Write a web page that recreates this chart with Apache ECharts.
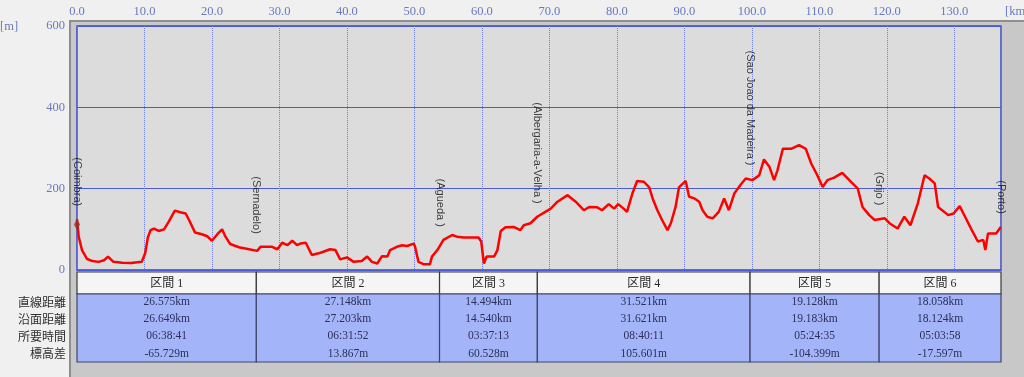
<!DOCTYPE html>
<html>
<head>
<meta charset="utf-8">
<script src="https://cdn.jsdelivr.net/npm/echarts@6/dist/echarts.min.js"></script>
<style>
  html, body { margin: 0; padding: 0; background: #f0f0f0; }
  #main { width: 1024px; height: 377px; }
</style>
</head>
<body>
<div id="main"></div>
<script>
// 標高プロファイル (距離 km / 標高 m)
var profileKm = [0, 0.25, 0.74, 1.5, 2.3, 3.2, 4.0, 4.6, 5.4, 6.7, 8.0, 9.6, 10.1, 10.5, 10.9, 11.4, 12.1, 12.9, 13.6, 14.5,
  15.3, 16.1, 16.6, 17.5, 18.5, 19.3, 20.0, 20.8, 21.5, 22.0, 22.7, 24.0, 25.5, 26.7, 27.2, 28.9, 29.7, 30.4, 31.2, 31.9,
  32.6, 33.1, 33.9, 34.1, 34.8, 35.8, 36.5, 37.5, 38.3, 39.0, 40.0, 41.0, 42.2, 43.0, 43.7, 44.5, 45.2, 46.0, 46.4, 47.4,
  48.2, 48.9, 49.9, 50.1, 50.6, 51.4, 52.3, 52.6, 53.4, 54.3, 55.6, 56.3, 57.3, 59.5, 59.9, 60.3, 60.7, 61.8, 62.3, 62.8,
  63.5, 64.7, 65.7, 66.2, 67.2, 68.2, 69.4, 70.2, 71.2, 72.7, 73.9, 75.1, 75.9, 77.1, 77.8, 78.8, 79.6, 80.2, 81.0, 81.5,
  82.3, 83.0, 84.0, 84.8, 85.3, 86.0, 86.7, 87.5, 88.0, 88.7, 89.2, 90.2, 90.7, 91.5, 92.2, 92.7, 93.4, 94.2, 95.1, 95.9,
  96.6, 97.4, 98.4, 99.1, 100.1, 101.1, 101.8, 102.6, 103.3, 103.8, 104.6, 105.8, 107.0, 108.0, 108.8, 109.7, 110.5, 111.2,
  112.2, 113.4, 114.7, 115.7, 116.4, 117.4, 118.2, 119.7, 120.4, 121.6, 122.6, 123.5, 124.6, 125.6, 126.3, 127.1, 127.6,
  129.1, 129.9, 130.8, 131.6, 132.6, 133.5, 134.3, 134.6, 135.0, 136.2, 136.9]
var profileM = [125, 82, 49, 27, 22, 20, 24, 33, 20, 18, 17, 20, 41, 80, 98, 102, 96, 100, 119, 146,
  142, 139, 123, 92, 88, 83, 72, 88, 100, 82, 64, 56, 51, 47, 57, 57, 51, 67, 61, 72,
  61, 65, 67, 70, 37, 41, 45, 51, 49, 26, 31, 20, 22, 33, 20, 16, 34, 33, 49, 57,
  61, 59, 65, 57, 20, 14, 14, 33, 49, 74, 86, 82, 80, 80, 70, 16, 33, 33, 49, 96,
  105, 106, 98, 110, 115, 131, 143, 151, 168, 184, 168, 147, 155, 154, 147, 162, 151, 162, 151, 143,
  188, 219, 217, 203, 176, 147, 123, 98, 115, 155, 203, 219, 180, 176, 168, 147, 131, 127, 143, 176,
  147, 188, 211, 225, 221, 233, 272, 254, 221, 245, 298, 298, 307, 298, 262, 233, 204, 221,
  227, 239, 217, 200, 155, 135, 123, 127, 115, 102, 131, 110, 164, 233, 225, 213, 155,
  135, 139, 157, 131, 98, 70, 74, 49, 90, 90, 106]

var places = ['(Coimbra)', '(Sernadelo)', '(Agueda )', '(Albergaria-a-Velha )', '(Sao Joao da Madeira )', '(Grijo )', '(Porto)']
var sections = ['区間 1', '区間 2', '区間 3', '区間 4', '区間 5', '区間 6']
var straightKm = [26.575, 27.148, 14.494, 31.521, 19.128, 18.058]
var surfaceKm = [26.649, 27.203, 14.540, 31.621, 19.183, 18.124]
var durations = ['06:38:41', '06:31:52', '03:37:13', '08:40:11', '05:24:35', '05:03:58']
var elevDiffM = [-65.729, 13.867, 60.528, 105.601, -104.399, -17.597]
var rowNames = ['直線距離', '沿面距離', '所要時間', '標高差']

var NUM_FONT = '"Liberation Serif", "Noto Sans CJK JP"'
var AXIS_COLOR = '#6a79bd'

// 区間の境界 (直線距離の累積)
var bounds = [0]
straightKm.forEach(function (d, i) { bounds.push(+(bounds[i] + d).toFixed(3)) })
var totalKm = bounds[bounds.length - 1]

var lineData = profileKm.map(function (x, i) { return [x, profileM[i]] })

// 地名ラベルの位置は近くの標高の最大値に合わせる
function localTop(km) {
  var m = 0
  profileKm.forEach(function (x, i) {
    if (Math.abs(x - km) <= 1.0) m = Math.max(m, profileM[i])
  })
  return m
}
var placeData = places.map(function (n, i) { return [bounds[i], localTop(bounds[i]), n] })

var tableData = sections.map(function (s, i) { return [bounds[i], bounds[i + 1], i] })

var chart = echarts.init(document.getElementById('main'))
chart.setOption({
  backgroundColor: '#f0f0f0',
  animation: false,
  graphic: [
    { type: 'rect', z: -10, shape: { x: 69, y: 20, width: 955, height: 357 }, style: { fill: '#c8c8c8' } },
    { type: 'rect', z: -9, shape: { x: 69, y: 20, width: 2, height: 357 }, style: { fill: '#8e8e8e' } },
    { type: 'rect', z: -9, shape: { x: 69, y: 20, width: 955, height: 2 }, style: { fill: '#8e8e8e' } },
    { type: 'text', x: 1005, y: 12, style: { text: '[km]', fill: AXIS_COLOR, font: '12.5px ' + NUM_FONT, align: 'left', verticalAlign: 'middle' } },
    { type: 'text', x: 0, y: 27, style: { text: '[m]', fill: AXIS_COLOR, font: '12.5px ' + NUM_FONT, align: 'left', verticalAlign: 'middle' } }
  ],
  grid: [
    { left: 77, right: 23, top: 26, bottom: 107, outerBoundsMode: 'none', containLabel: false,
      show: true, backgroundColor: '#dcdcdc', borderColor: '#3848c8', borderWidth: 1.5 },
    { left: 77, right: 23, top: 272, height: 90, outerBoundsMode: 'none', containLabel: false }
  ],
  xAxis: [
    {
      type: 'value', position: 'top', min: 0, max: totalKm, interval: 10,
      axisLine: { show: false }, axisTick: { show: false },
      axisLabel: { color: AXIS_COLOR, fontFamily: NUM_FONT, fontSize: 12.5, margin: 8, showMaxLabel: false,
        formatter: function (v) { return v.toFixed(1) } },
      splitLine: { show: true, lineStyle: { color: '#6f7fd8', width: 1, type: 'dotted' } }
    },
    { type: 'value', gridIndex: 1, min: 0, max: totalKm, show: false }
  ],
  yAxis: [
    {
      type: 'value', min: 0, max: 600, interval: 200,
      axisLine: { show: false }, axisTick: { show: false },
      axisLabel: { color: AXIS_COLOR, fontFamily: NUM_FONT, fontSize: 12.5, margin: 12 },
      splitLine: { show: true, lineStyle: { color: '#4a5ad4', width: 1 } }
    },
    { type: 'value', gridIndex: 1, min: 0, max: 1, show: false }
  ],
  series: [
    {
      type: 'line', data: lineData, showSymbol: false, z: 5,
      lineStyle: { color: '#ff0000', width: 2.5 }
    },
    {
      type: 'scatter', data: placeData, symbolSize: 2, z: 6,
      itemStyle: { color: 'rgba(0,0,0,0)' },
      label: {
        show: true, position: 'top', distance: 12, rotate: -90, align: 'right', verticalAlign: 'middle',
        color: '#111111', fontFamily: '"Liberation Sans", Arial', fontSize: 11,
        formatter: function (p) { return p.value[2] }
      }
    },
    {
      // スタート地点のアイコン
      type: 'scatter', data: [[0, 112]], symbol: 'diamond', symbolSize: [6, 12], z: 7,
      itemStyle: { color: '#8a3328' }
    },
    {
      type: 'custom', xAxisIndex: 1, yAxisIndex: 1, data: tableData,
      renderItem: function (params, api) {
        var i = api.value(2)
        var x0 = api.coord([api.value(0), 0])[0]
        var x1 = api.coord([api.value(1), 0])[0]
        var cs = params.coordSys
        var top = cs.y, hh = 22, bottom = cs.y + cs.height
        var cx = (x0 + x1) / 2
        var rows = [
          straightKm[i].toFixed(3) + 'km',
          surfaceKm[i].toFixed(3) + 'km',
          durations[i],
          elevDiffM[i].toFixed(3) + 'm'
        ]
        var children = [
          { type: 'rect', shape: { x: x0, y: top, width: x1 - x0, height: hh }, style: { fill: '#f5f5f5', stroke: '#3a3a3a', lineWidth: 1.2 } },
          { type: 'rect', shape: { x: x0, y: top + hh, width: x1 - x0, height: bottom - top - hh }, style: { fill: '#a3b4f9', stroke: '#40456e', lineWidth: 1.2 } },
          { type: 'text', style: { text: sections[i], x: cx, y: top + hh / 2 + 0.5, align: 'center', verticalAlign: 'middle', fill: '#2a2a2a', font: '12px ' + NUM_FONT } }
        ]
        rows.forEach(function (t, k) {
          children.push({ type: 'text', style: { text: t, x: cx, y: top + hh + 8 + k * 17.2, align: 'center', verticalAlign: 'middle', fill: '#2b3058', font: '11.5px ' + NUM_FONT } })
          if (i === 0) {
            children.push({ type: 'text', style: { text: rowNames[k], x: x0 - 11, y: top + hh + 8 + k * 17.2, align: 'right', verticalAlign: 'middle', fill: '#2e2e2e', font: '12px "Noto Sans CJK JP"' } })
          }
        })
        return { type: 'group', children: children }
      }
    }
  ]
})
</script>
</body>
</html>
